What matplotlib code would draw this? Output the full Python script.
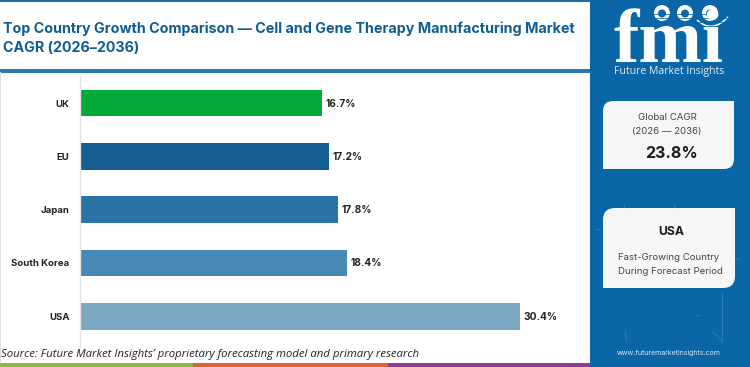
import matplotlib
matplotlib.use("Agg")
import matplotlib.pyplot as plt
from matplotlib.patches import Rectangle, PathPatch, Circle
from matplotlib.path import Path

categories = ["UK", "EU", "Japan", "South Korea", "USA"]
values = [16.7, 17.2, 17.8, 18.4, 30.4]
colors = ["#02ab39", "#155f92", "#2a73a6", "#4689b5", "#7da8c2"]
title = "Top Country Growth Comparison \u2014 Cell and Gene Therapy Manufacturing Market\nCAGR (2026\u20132036)"
source = "Source: Future Market Insights\u2019 proprietary forecasting model and primary research"

plt.rcParams['font.family'] = ['Inter', 'DejaVu Sans']
W, H = 750, 367
PANEL = "#0b66a8"
fig = plt.figure(figsize=(W/100, H/100), dpi=100, facecolor="white")

bg = fig.add_axes([0, 0, 1, 1], zorder=0)
bg.set_xlim(0, W); bg.set_ylim(H, 0); bg.axis("off")

def rounded(x0, y0, x1, y1, r, **kw):
    v = [(x0+r, y0), (x1, y0), (x1, y1-r), (x1, y1), (x1-r, y1), (x0, y1), (x0, y0+r), (x0, y0), (x0+r, y0)]
    c = [Path.MOVETO, Path.LINETO, Path.LINETO, Path.CURVE3, Path.CURVE3, Path.LINETO, Path.LINETO, Path.CURVE3, Path.CURVE3]
    bg.add_patch(PathPatch(Path(v, c), **kw))

# frame strips
bg.add_patch(Rectangle((0, 0), 590, 1.5, fc="#1a6ca8", ec="none"))
bg.add_patch(Rectangle((0, 69), 590, 3.5, fc="#2a7aae", ec="none"))
bg.add_patch(Rectangle((0, 72), 1.2, 290, fc="#dddddd", ec="none"))
bg.add_patch(Rectangle((0, 363), 193, 4, fc="#8cb843", ec="none"))
bg.add_patch(Rectangle((193, 363), 195, 4, fc="#e0622c", ec="none"))
bg.add_patch(Rectangle((388, 363), 202, 4, fc="#8e3a96", ec="none"))
bg.add_patch(Rectangle((590, 0), 160, 367, fc=PANEL, ec="none"))

# panel scratches
for (x0, y0, x1, y1) in [(722, 293, 722, 340), (713, 332, 723, 342), (625, 330, 627, 342),
                         (696, 316, 700, 315), (624, 205, 625, 208), (674, 205, 676, 208),
                         (596, 229, 600, 230), (735, 260, 739, 259)]:
    bg.plot([x0, x1], [y0, y1], color="#5c9cc8", lw=0.5, alpha=0.6)

# title and source
line1, line2 = title.split("\n")
bg.text(3, 28.5, line1, fontsize=10.3, fontweight="bold", color="#0f5d94", va="center", ha="left")
bg.text(3, 47.5, line2, fontsize=10.3, fontweight="bold", color="#0f5d94", va="center", ha="left")
bg.text(1, 354.5, source, fontsize=8.2, style="italic", color="#222222", va="center", ha="left",
        family="Open Sans")

# logo
bg.text(669, 62, "fmi", fontsize=55, fontweight="bold", family="Liberation Serif", color="white",
        ha="center", va="baseline")
for yy in range(14, 62, 4):
    bg.plot([605, 735], [yy, yy], color=PANEL, lw=0.55, solid_capstyle="butt")
for cx, cy in [(662, 13), (685, 13), (710, 13)]:
    bg.add_patch(Circle((cx, cy), 8, fc="white", ec="none"))
    bg.add_patch(Circle((cx, cy+0.5), 4, fc=PANEL, ec="none"))
bg.add_patch(PathPatch(Path([(697, 20), (712, 34), (728, 17)], [Path.MOVETO, Path.CURVE3, Path.CURVE3]),
                       fc="none", ec="white", lw=1.1))
bg.text(669, 71.5, "Future Market Insights", fontsize=7.6, color="#dcebf6", ha="center", va="center",
        family="Open Sans")

# cards
rounded(603, 101, 734, 169, 10, fc="#f6f6f6", ec="none")
rounded(603, 208, 735, 288, 12, fc="#f6f6f6", ec="none")
bg.text(667, 118, "Global CAGR", fontsize=6.9, color="#444444", ha="center", va="center")
bg.text(667, 131.5, "(2026 \u2014 2036)", fontsize=6.9, color="#444444", ha="center", va="center")
bg.text(671, 153, "23.8%", fontsize=11.5, fontweight="bold", color="#1c1c1c", ha="center", va="center")
bg.text(671, 232, "USA", fontsize=8.8, fontweight="bold", color="#1c1c1c", ha="center", va="center")
bg.text(669, 258, "Fast-Growing Country", fontsize=6.9, color="#444444", ha="center", va="center")
bg.text(670, 272, "During Forecast Period", fontsize=6.9, color="#444444", ha="center", va="center")
bg.text(669, 353, "www.futuremarketinsights.com", fontsize=5.1, color="#d7e8f4", ha="center", va="center")

# chart axes: x from 80 px, rows spaced ~53.3 px
L, R, T, B = 80, 560, 76.4, 346.6
ax = fig.add_axes([L/W, 1-B/H, (R-L)/W, (B-T)/H], zorder=1)
ax.patch.set_alpha(0)
pos = list(range(len(categories)))
ax.barh(pos, values, height=0.5, color=colors, edgecolor="none")
ax.set_xlim(0, (R-L)/14.49)
ax.set_ylim(4.57, -0.5)
ax.set_yticks(pos)
ax.set_yticklabels(categories, fontsize=6.9, fontweight="bold", color="#222222")
ax.tick_params(axis="y", length=0, pad=7.5)
ax.set_xticks([])
for s in ["top", "right", "bottom"]:
    ax.spines[s].set_visible(False)
ax.spines["left"].set_color("#e4e4e4")
ax.spines["left"].set_linewidth(1)
for p, v in zip(pos, values):
    ax.text(v + 0.24, p + 0.01, f"{v}%", fontsize=7.3, fontweight="bold", color="#222222", va="center", ha="left")

fig.savefig("out.png", dpi=100)
